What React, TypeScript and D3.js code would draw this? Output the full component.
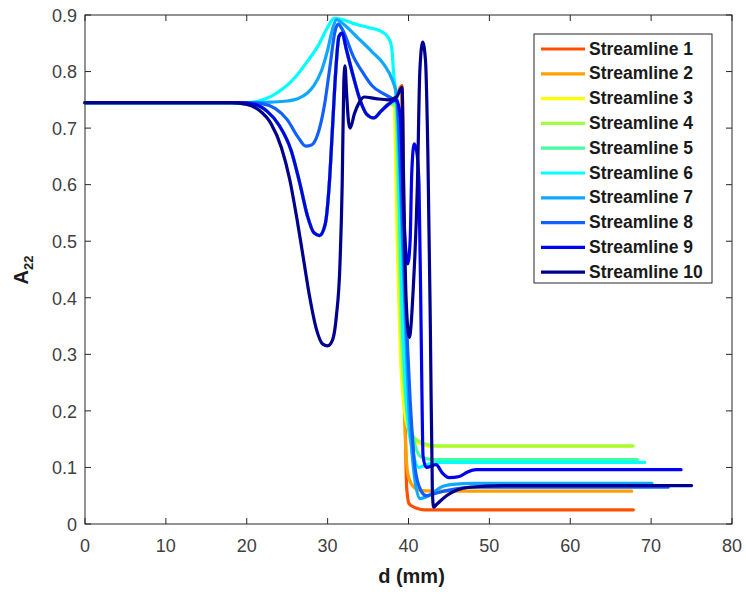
import React from "react";
import * as d3 from "d3";

const seriesNames = ["Streamline 1","Streamline 2","Streamline 3","Streamline 4","Streamline 5","Streamline 6","Streamline 7","Streamline 8","Streamline 9","Streamline 10"];
const seriesColors = ["#ff5000","#ffa000","#ffff00","#a0ff40","#40ffa0","#00ffff","#10a8ff","#1060ff","#0000f0","#00008f"];

const xTicks = [0,10,20,30,40,50,60,70,80];
const yTicks = [0,0.1,0.2,0.3,0.4,0.5,0.6,0.7,0.8,0.9];

const streamline1: [number, number][] = [[0,0.745],[19,0.745],[21,0.742],[22.5,0.73],[24,0.705],[25.5,0.66],[26.6,0.6],[27.5,0.545],[28.3,0.515],[29,0.51],[29.7,0.53],[30.2,0.6],[30.6,0.7],[31,0.8],[31.4,0.862],[31.8,0.868],[32.3,0.84],[33.2,0.79],[34,0.75],[34.8,0.725],[35.7,0.718],[36.6,0.73],[37.5,0.742],[38.4,0.755],[39.2,0.775],[39.45,0.5],[39.6,0.2],[39.8,0.06],[40.1,0.035],[41,0.028],[42,0.025],[67.8,0.025]];
const streamline2: [number, number][] = [[0,0.745],[19,0.745],[21,0.742],[22.5,0.73],[24,0.705],[25.5,0.66],[26.6,0.6],[27.5,0.545],[28.3,0.515],[29,0.51],[29.7,0.53],[30.2,0.6],[30.6,0.7],[31,0.8],[31.4,0.862],[31.8,0.868],[32.3,0.84],[33.2,0.79],[34,0.75],[34.8,0.725],[35.7,0.718],[36.6,0.73],[37.5,0.742],[38.4,0.755],[39.1,0.77],[39.3,0.5],[39.5,0.2],[39.9,0.09],[40.5,0.068],[41.3,0.06],[43,0.058],[67.6,0.058]];
const streamline3: [number, number][] = [[0,0.745],[19,0.745],[21,0.742],[22.5,0.73],[24,0.705],[25.5,0.66],[26.6,0.6],[27.5,0.545],[28.3,0.515],[29,0.51],[29.7,0.53],[30.2,0.6],[30.6,0.7],[31,0.8],[31.4,0.862],[31.8,0.868],[32.3,0.84],[33.2,0.79],[34,0.75],[34.8,0.725],[35.7,0.718],[36.6,0.73],[37.5,0.742],[38.2,0.745],[38.6,0.5],[39,0.3],[39.5,0.2],[40.2,0.16],[41,0.145],[43,0.137],[67.6,0.137]];
const streamline4: [number, number][] = [[0,0.745],[19,0.745],[21,0.742],[22.5,0.73],[24,0.705],[25.5,0.66],[26.6,0.6],[27.5,0.545],[28.3,0.515],[29,0.51],[29.7,0.53],[30.2,0.6],[30.6,0.7],[31,0.8],[31.4,0.862],[31.8,0.868],[32.3,0.84],[33.2,0.79],[34,0.75],[34.8,0.725],[35.7,0.718],[36.6,0.73],[37.5,0.742],[38.4,0.74],[38.8,0.5],[39.2,0.3],[39.8,0.2],[40.7,0.153],[42,0.142],[43.5,0.138],[67.8,0.138]];
const streamline5: [number, number][] = [[0,0.745],[19,0.745],[21,0.742],[22.5,0.73],[24,0.705],[25.5,0.66],[26.6,0.6],[27.5,0.545],[28.3,0.515],[29,0.51],[29.7,0.53],[30.2,0.6],[30.6,0.7],[31,0.8],[31.4,0.862],[31.8,0.868],[32.3,0.84],[33.2,0.79],[34,0.75],[34.8,0.725],[35.7,0.718],[36.6,0.73],[37.5,0.742],[38.5,0.745],[39,0.5],[39.4,0.3],[40,0.2],[40.8,0.14],[41.6,0.118],[43,0.114],[68.3,0.114]];
const streamline6: [number, number][] = [[0,0.745],[20,0.745],[21.5,0.748],[23,0.756],[24.5,0.77],[26,0.79],[27.5,0.818],[28.8,0.845],[30,0.878],[30.8,0.894],[31.8,0.892],[33,0.886],[35,0.878],[36.5,0.872],[37.4,0.862],[37.9,0.845],[38.2,0.79],[38.5,0.75],[38.9,0.55],[39.3,0.35],[39.8,0.2],[40.5,0.13],[41.3,0.1],[42.2,0.105],[44,0.109],[69.2,0.109]];
const streamline7: [number, number][] = [[0,0.745],[20,0.745],[23,0.746],[25,0.748],[26.3,0.752],[27.5,0.762],[28.3,0.775],[29.2,0.8],[30,0.838],[30.6,0.875],[31.1,0.892],[31.6,0.888],[33.7,0.86],[35.5,0.835],[37,0.812],[38,0.785],[38.5,0.76],[39,0.6],[39.5,0.4],[40,0.22],[40.6,0.1],[41.4,0.045],[42.5,0.05],[44,0.065],[45.5,0.07],[48,0.072],[70.1,0.072]];
const streamline8: [number, number][] = [[0,0.745],[20,0.745],[22,0.743],[23.5,0.735],[25,0.715],[26.3,0.685],[27.3,0.668],[28,0.67],[28.8,0.69],[29.6,0.74],[30.3,0.81],[30.9,0.87],[31.3,0.884],[31.8,0.875],[33.2,0.826],[34.5,0.795],[35.5,0.775],[37,0.76],[38,0.752],[38.6,0.745],[39.1,0.6],[39.6,0.4],[40.2,0.22],[40.8,0.1],[41.5,0.06],[42.2,0.05],[43.5,0.055],[45,0.06],[48,0.065],[72.1,0.065]];
const streamline9: [number, number][] = [[0,0.745],[19,0.745],[21,0.742],[22.5,0.73],[24,0.705],[25.5,0.66],[26.6,0.6],[27.5,0.545],[28.3,0.515],[29,0.51],[29.7,0.53],[30.2,0.6],[30.6,0.7],[31,0.8],[31.4,0.862],[31.8,0.868],[32.3,0.84],[33.2,0.79],[34,0.75],[34.8,0.725],[35.7,0.718],[36.6,0.73],[37.5,0.742],[38.5,0.75],[39,0.72],[39.4,0.55],[39.9,0.46],[40.2,0.5],[40.4,0.62],[40.7,0.672],[41,0.66],[41.3,0.6],[41.6,0.3],[41.8,0.12],[42.2,0.1],[43.4,0.105],[44.2,0.09],[45,0.082],[46.3,0.084],[47.3,0.092],[48.4,0.096],[73.7,0.096]];
const streamline10: [number, number][] = [[0,0.745],[18,0.745],[20,0.742],[21.5,0.732],[23,0.708],[24.3,0.665],[25.3,0.61],[26.2,0.54],[27,0.47],[27.8,0.4],[28.6,0.345],[29.4,0.318],[30,0.315],[30.6,0.325],[31.1,0.37],[31.5,0.45],[31.8,0.6],[32,0.78],[32.15,0.81],[32.35,0.76],[32.6,0.71],[32.8,0.7],[33.3,0.725],[33.9,0.745],[34.5,0.755],[36,0.752],[37.5,0.75],[38.5,0.755],[39.2,0.772],[39.4,0.6],[39.7,0.4],[40.1,0.33],[40.6,0.42],[41.1,0.6],[41.4,0.8],[41.75,0.852],[42.1,0.82],[42.4,0.65],[42.7,0.35],[42.95,0.06],[43.1,0.03],[43.5,0.035],[44.7,0.05],[46,0.06],[47.5,0.065],[51.6,0.068],[75,0.068]];

const allSeries = [streamline1,streamline2,streamline3,streamline4,streamline5,streamline6,streamline7,streamline8,streamline9,streamline10];

const W = 746, H = 597;
const left = 85, right = 732, top = 15, bottom = 524;
const axisColor = "#262626";
const labelColor = "#404040";
const font = "'Liberation Sans', Arial, Helvetica, sans-serif";

export default function App() {
  const x = d3.scaleLinear().domain([0, 80]).range([left, right]);
  const y = d3.scaleLinear().domain([0, 0.9]).range([bottom, top]);
  const line = d3.line<[number, number]>().x(d => x(d[0])).y(d => y(d[1])).curve(d3.curveMonotoneX);
  const tl = 6;
  const legX = 534, legY = 34, legW = 178, legH = 249;
  return (
    <svg width={W} height={H} style={{ position: "absolute", left: 0, top: 0, background: "#fff" }} fontFamily={font}>
      <rect x={0} y={0} width={W} height={H} fill="#fff" />
      <g>
        {allSeries.map((s, i) => (
          <path key={i} d={line(s) || ""} fill="none" stroke={seriesColors[i]} strokeWidth={3.2} strokeLinejoin="round" strokeLinecap="round" />
        ))}
      </g>
      <rect x={left} y={top} width={right - left} height={bottom - top} fill="none" stroke={axisColor} strokeWidth={1} />
      {xTicks.map(t => (
        <g key={"x" + t}>
          <line x1={x(t)} x2={x(t)} y1={bottom} y2={bottom - tl} stroke={axisColor} />
          <line x1={x(t)} x2={x(t)} y1={top} y2={top + tl} stroke={axisColor} />
          <text x={x(t)} y={bottom + 23} textAnchor="middle" dominantBaseline="middle" fontSize={18} fill={labelColor}>{t}</text>
        </g>
      ))}
      {yTicks.map(t => (
        <g key={"y" + t}>
          <line x1={left} x2={left + tl} y1={y(t)} y2={y(t)} stroke={axisColor} />
          <line x1={right} x2={right - tl} y1={y(t)} y2={y(t)} stroke={axisColor} />
          <text x={left - 8} y={y(t) + 2} textAnchor="end" dominantBaseline="middle" fontSize={18} fill={labelColor}>{t === 0 ? "0" : t.toFixed(1)}</text>
        </g>
      ))}
      <text x={(left + right) / 2 + 3} y={578} textAnchor="middle" dominantBaseline="middle" fontSize={20} fontWeight="bold" fill="#1a1a1a">d (mm)</text>
      <text transform={`translate(28,270) rotate(-90)`} textAnchor="middle" fontSize={20} fontWeight="bold" fill="#1a1a1a">
        A<tspan fontSize={13} dy={5}>22</tspan>
      </text>
      <rect x={legX} y={legY} width={legW} height={legH} fill="#fff" stroke={axisColor} strokeWidth={1} />
      {seriesNames.map((n, i) => {
        const ry = legY + 15 + i * 24.8;
        return (
          <g key={n}>
            <line x1={legX + 7} x2={legX + 51} y1={ry} y2={ry} stroke={seriesColors[i]} strokeWidth={3.2} />
            <text x={legX + 55} y={ry + 1} dominantBaseline="middle" fontSize={17.5} fontWeight="bold" fill="#1a1a1a">{n}</text>
          </g>
        );
      })}
    </svg>
  );
}
